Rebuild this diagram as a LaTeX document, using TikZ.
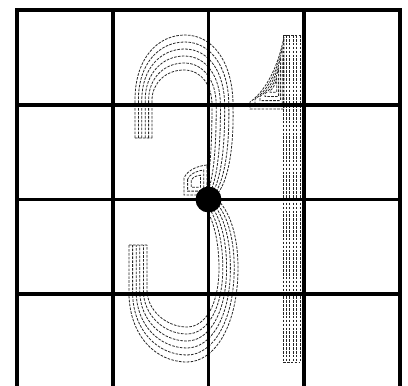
\documentclass[tikz,border=0pt]{standalone}
\usetikzlibrary{calc}

\begin{document}
\begin{tikzpicture}[
  x=1pt,y=-1pt,
  gridline/.style={draw,line width=3.9pt,line cap=rect},
  dashline/.style={draw=black!85,line width=0.8pt,dash pattern=on 2.6pt off 1.3pt},
  pin/.style={circle,fill=black,minimum size=26pt,inner sep=0pt}
]
\useasboundingbox (0,0) rectangle (408,386);
\clip (0,0) rectangle (408,386);

% upper bowl of the 3 (outer o / inner i)
\coordinate (ou0) at (135,138);  \coordinate (iu0) at (152,138);
\coordinate (ou1) at (135,100);  \coordinate (iu1) at (152,100);
\coordinate (ou2) at (135,58);   \coordinate (iu2) at (152,84);
\coordinate (ou3) at (158,35);   \coordinate (iu3) at (165,70);
\coordinate (ou4) at (185,35);   \coordinate (iu4) at (184,70);
\coordinate (ou5) at (214,35);   \coordinate (iu5) at (201,70);
\coordinate (ou6) at (233,64);   \coordinate (iu6) at (212,85);
\coordinate (ou7) at (233,105);  \coordinate (iu7) at (212,105);
\coordinate (ou8) at (234,150);  \coordinate (iu8) at (212,145);
\coordinate (ou9) at (228,180);  \coordinate (iu9) at (210,175);
\coordinate (ou10) at (218,193); \coordinate (iu10) at (206,189);
\foreach \t in {0,0.2,0.4,0.6,0.8,1} {
  \foreach \k in {0,...,10} \coordinate (m\k) at ($(ou\k)!\t!(iu\k)$);
  \draw[dashline] (m0) -- (m1) .. controls (m2) and (m3) .. (m4)
    .. controls (m5) and (m6) .. (m7) .. controls (m8) and (m9) .. (m10);
}
\draw[dashline] (ou0) -- (iu0) (ou10) -- (iu10);

% middle spur of the 3
\foreach \s in {1,0.7,0.4}
  \draw[dashline,scale around={\s:(196,182)}] (184,178) -- (184,195) -- (207,195)
    -- (207,165) .. controls (196,166) and (187,171) .. cycle;

% lower bowl of the 3
\coordinate (ol0) at (218,200);  \coordinate (il0) at (207,210);
\coordinate (ol1) at (232,215);  \coordinate (il1) at (215,225);
\coordinate (ol2) at (238,240);  \coordinate (il2) at (219,245);
\coordinate (ol3) at (238,268);  \coordinate (il3) at (219,268);
\coordinate (ol4) at (238,325);  \coordinate (il4) at (219,305);
\coordinate (ol5) at (215,362);  \coordinate (il5) at (205,327);
\coordinate (ol6) at (187,362);  \coordinate (il6) at (187,327);
\coordinate (ol7) at (155,362);  \coordinate (il7) at (166,327);
\coordinate (ol8) at (130,335);  \coordinate (il8) at (147,310);
\coordinate (ol9) at (129,295);  \coordinate (il9) at (147,290);
\coordinate (ol10) at (129,245); \coordinate (il10) at (147,245);
\foreach \t in {0,0.2,0.4,0.6,0.8,1} {
  \foreach \k in {0,...,10} \coordinate (n\k) at ($(ol\k)!\t!(il\k)$);
  \draw[dashline] (n0) .. controls (n1) and (n2) .. (n3)
    .. controls (n4) and (n5) .. (n6) .. controls (n7) and (n8) .. (n9) -- (n10);
}
\draw[dashline] (ol0) -- (il0) (ol10) -- (il10);

% the 1: stem and flag
\foreach \x in {283,286.4,289.8,293.2,296.6,300}
  \draw[dashline] (\x,35) -- (\x,362);
\draw[dashline] (283,35) -- (300,35) (283,362) -- (300,362);
\foreach \s in {1,0.8,0.6,0.4,0.2}
  \draw[dashline,scale around={\s:(275,88)}] (284,37) .. controls (277,72) and (263,93)
    .. (250,102) -- (250,109) -- (284,109) -- cycle;

% 4x4 grid
\foreach \k in {0,...,4} {
  \draw[gridline] (17+95.75*\k,10) -- (17+95.75*\k,389);
  \draw[gridline] (17,10+94.75*\k) -- (400,10+94.75*\k);
}

% centre point
\node[pin] (pivot) at (208.5,199.5) {};
\end{tikzpicture}
\end{document}
